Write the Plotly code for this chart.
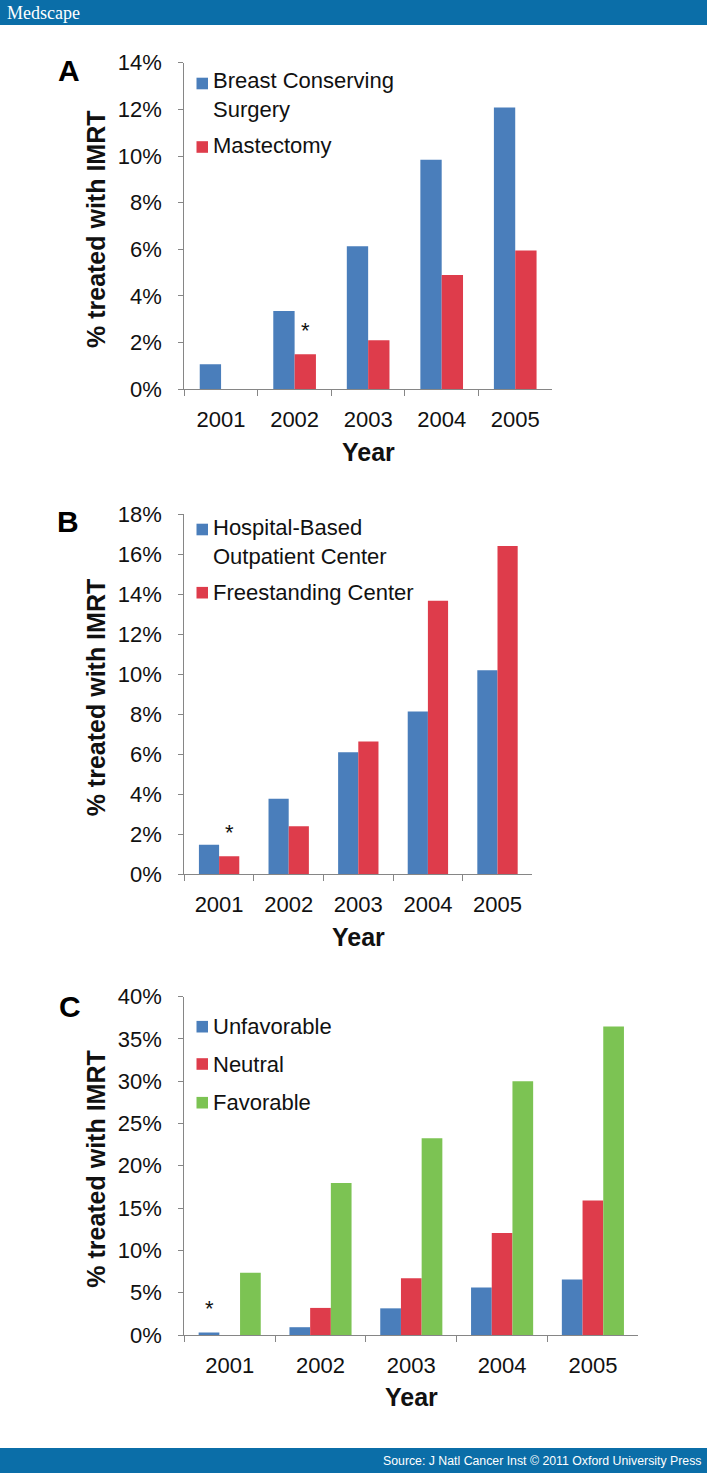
import plotly.graph_objects as go

W, H = 707, 1473

# ---------------- data ----------------
years = ["2001", "2002", "2003", "2004", "2005"]

a_names = ["Breast Conserving<br>Surgery", "Mastectomy"]
a_bcs = [1.07, 3.36, 6.13, 9.84, 12.08]
a_mast = [None, 1.50, 2.10, 4.90, 5.95]

b_names = ["Hospital-Based<br>Outpatient Center", "Freestanding Center"]
b_hosp = [1.48, 3.78, 6.10, 8.14, 10.20]
b_free = [0.90, 2.40, 6.64, 13.68, 16.42]

c_names = ["Unfavorable", "Neutral", "Favorable"]
c_unfav = [0.30, 0.92, 3.15, 5.62, 6.55]
c_neut = [None, 3.20, 6.70, 12.05, 15.90]
c_fav = [7.35, 17.95, 23.25, 30.00, 36.45]

a_ticks = [0, 2, 4, 6, 8, 10, 12, 14]
b_ticks = [0, 2, 4, 6, 8, 10, 12, 14, 16, 18]
c_ticks = [0, 5, 10, 15, 20, 25, 30, 35, 40]

# asterisks: (panel, year, series index)
asterisks = [("A", "2002", 1), ("B", "2001", 1), ("C", "2001", 0)]

# ---------------- style ----------------
BLUE, RED, GREEN = "#4a7ebb", "#de3c4b", "#7cc353"
AXIS = "#868686"
FONT = "Liberation Sans, Arial, sans-serif"
TXT = "#111111"
HEAD = "#0b6ea8"
FS = 22


def xp(px):
    return px / W


def yp(py):
    return 1 - py / H


panels = {
    "A": dict(series=[a_bcs, a_mast], names=a_names, colors=[BLUE, RED],
              x0=184.3, x1=552.0, top=62.7, bot=389.3, ticks=a_ticks,
              width=0.29, legend_y=[95, 146], legend_sq=[83.5, 147],
              label_xy=(69, 70), year_y=452),
    "B": dict(series=[b_hosp, b_free], names=b_names, colors=[BLUE, RED],
              x0=184.3, x1=532.3, top=514.3, bot=874.3, ticks=b_ticks,
              width=0.29, legend_y=[542, 592.7], legend_sq=[529.5, 592.7],
              label_xy=(68, 521), year_y=937),
    "C": dict(series=[c_unfav, c_neut, c_fav], names=c_names,
              colors=[BLUE, RED, GREEN],
              x0=184.3, x1=638.3, top=996.5, bot=1335.0, ticks=c_ticks,
              width=0.228, legend_y=[1026.7, 1064, 1102.7],
              legend_sq=[1026.7, 1064, 1102.7],
              label_xy=(70, 1006), year_y=1397),
}

fig = go.Figure()
annotations = []
shapes = []

for i, (key, p) in enumerate(panels.items()):
    suffix = "" if i == 0 else str(i + 1)
    xa, ya = "x" + suffix, "y" + suffix
    n = len(p["series"])
    w = p["width"]
    offsets = [(-n / 2 + k) * w for k in range(n)]
    for k, (vals, name, col) in enumerate(zip(p["series"], p["names"], p["colors"])):
        fig.add_trace(go.Bar(
            x=years, y=vals, name=name.replace("<br>", " "),
            marker=dict(color=col, line=dict(width=0)),
            width=w, offset=offsets[k],
            xaxis=xa, yaxis=ya, showlegend=False,
            hovertemplate="%{x}: %{y:.1f}%<extra>" + name.replace("<br>", " ") + "</extra>",
        ))
    p["offsets"] = offsets
    p["xa"], p["ya"] = xa, ya

    fig.update_layout(**{
        ("xaxis" + suffix): dict(
            domain=[xp(p["x0"]), xp(p["x1"])], anchor=ya, type="category",
            range=[-0.5, len(years) - 0.5], showline=True, linecolor=AXIS,
            linewidth=1.3, ticks="outside", ticklen=6, tickcolor=AXIS,
            tickwidth=1.3, tickson="boundaries", showgrid=False,
            tickfont=dict(family=FONT, size=FS, color=TXT),
            ticklabelstandoff=10, fixedrange=True, automargin=False,
        ),
        ("yaxis" + suffix): dict(
            domain=[yp(p["bot"]), yp(p["top"])], anchor=xa,
            range=[0, p["ticks"][-1]], tickvals=p["ticks"],
            ticktext=[f"{t}%" for t in p["ticks"]],
            showline=True, linecolor=AXIS, linewidth=1.3, ticks="outside",
            ticklen=5, tickcolor=AXIS, tickwidth=1.3, showgrid=False,
            zeroline=False, tickfont=dict(family=FONT, size=FS, color=TXT),
            ticklabelstandoff=12, fixedrange=True, automargin=False,
        ),
    })

    annotations.append(dict(
        text="<b>% treated with IMRT</b>", textangle=-90, xref="paper", yref="paper",
        x=xp(96), y=yp((p["top"] + p["bot"]) / 2 + 3), xanchor="center", yanchor="middle",
        showarrow=False, font=dict(family=FONT, size=25, color=TXT)))
    annotations.append(dict(
        text="<b>Year</b>", xref="paper", yref="paper",
        x=xp((p["x0"] + p["x1"]) / 2), y=yp(p["year_y"]), xanchor="center",
        yanchor="middle", showarrow=False, font=dict(family=FONT, size=25, color=TXT)))
    annotations.append(dict(
        text=f"<b>{key}</b>", xref="paper", yref="paper",
        x=xp(p["label_xy"][0]), y=yp(p["label_xy"][1]), xanchor="center",
        yanchor="middle", showarrow=False, font=dict(family=FONT, size=30, color="#000000")))
    for name, col, ty, sy in zip(p["names"], p["colors"], p["legend_y"], p["legend_sq"]):
        shapes.append(dict(type="rect", xref="paper", yref="paper",
                           x0=xp(196.5), x1=xp(208), y0=yp(sy - 5.8), y1=yp(sy + 5.8),
                           fillcolor=col, line=dict(width=0)))
        annotations.append(dict(
            text=name, xref="paper", yref="paper", x=xp(210.5), y=yp(ty),
            xanchor="left", yanchor="middle", align="left", showarrow=False,
            font=dict(family=FONT, size=FS, color=TXT)))

for key, yr, s in asterisks:
    p = panels[key]
    idx = years.index(yr)
    xpos = idx + p["offsets"][s] + p["width"] / 2
    annotations.append(dict(
        text="*", xref=p["xa"], yref=p["ya"], x=xpos, y=p["series"][s][idx],
        xanchor="center", yanchor="bottom", yshift=9, showarrow=False,
        font=dict(family=FONT, size=22, color=TXT)))

shapes.append(dict(type="rect", xref="paper", yref="paper", x0=0, x1=1,
                   y0=yp(25), y1=1, fillcolor=HEAD, line=dict(width=0), layer="below"))
shapes.append(dict(type="rect", xref="paper", yref="paper", x0=0, x1=1,
                   y0=0, y1=yp(1448), fillcolor=HEAD, line=dict(width=0), layer="below"))
annotations.append(dict(
    text="Medscape", xref="paper", yref="paper", x=xp(5), y=yp(12.5),
    xanchor="left", yanchor="middle", showarrow=False,
    font=dict(family="Liberation Serif, Times New Roman, serif", size=18, color="white")))
annotations.append(dict(
    text="Source: J Natl Cancer Inst © 2011 Oxford University Press",
    xref="paper", yref="paper", x=xp(703), y=yp(1461), xanchor="right",
    yanchor="middle", showarrow=False,
    font=dict(family=FONT, size=12.3, color="white")))

fig.update_layout(
    width=W, height=H, margin=dict(l=0, r=0, t=0, b=0, pad=0, autoexpand=False),
    paper_bgcolor="white", plot_bgcolor="white",
    barmode="group", showlegend=False,
    annotations=annotations, shapes=shapes,
    font=dict(family=FONT, color=TXT),
)

fig.write_html(
    "out.html",
    config={"displayModeBar": False},
    post_script=(
        "document.documentElement.style.margin='0';"
        "document.body.style.margin='0';document.body.style.padding='0';"
        "document.body.style.overflow='hidden';"
        "var d=document.getElementById('{plot_id}');"
        "d.style.position='absolute';d.style.top='0px';d.style.left='0px';"
    ),
)
